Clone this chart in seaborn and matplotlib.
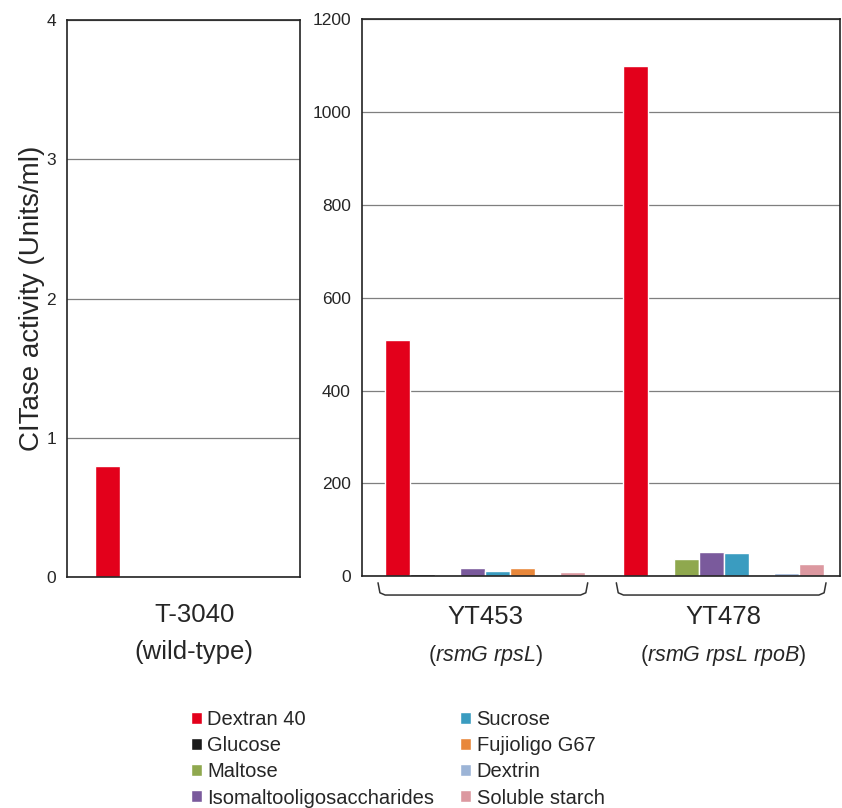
import numpy as np
import pandas as pd
import matplotlib
matplotlib.use("Agg")
import matplotlib.pyplot as plt
import seaborn as sns

# substrates (legend order) and their colours
substrates = ["Dextran 40", "Glucose", "Maltose", "Isomaltooligosaccharides",
              "Sucrose", "Fujioligo G67", "Dextrin", "Soluble starch"]
colors = ["#e3001b", "#1a1a1a", "#8fa84e", "#7a5a9c",
          "#3a9cc0", "#e8873a", "#9cb4d6", "#dc98a0"]

# CITase activity (Units/ml)
wt_vals = [0.8, 0, 0, 0, 0, 0, 0, 0]            # T-3040
yt453_vals = [510, 4, 0, 17, 11, 17, 0, 8]     # YT453
yt478_vals = [1100, 0, 36, 52, 50, 0, 6, 26]   # YT478

strains_right = ["YT453", "YT478"]
genotypes_right = [r"($\mathit{rsmG\ rpsL}$)", r"($\mathit{rsmG\ rpsL\ rpoB}$)"]

sns.set_style("white")
plt.rcParams["font.family"] = ["Liberation Sans", "DejaVu Sans"]
plt.rcParams["mathtext.fontset"] = "custom"
plt.rcParams["mathtext.rm"] = "Liberation Sans"
plt.rcParams["mathtext.it"] = "Liberation Sans:italic"

df_left = pd.DataFrame({"strain": "T-3040", "substrate": substrates, "activity": wt_vals})
df_right = pd.DataFrame({
    "strain": np.repeat(strains_right, len(substrates)),
    "substrate": substrates * 2,
    "activity": yt453_vals + yt478_vals,
})

fig = plt.figure(figsize=(8.42, 8.08), dpi=100)
ax1 = fig.add_axes([0.0796, 0.286, 0.2767, 0.689])
ax2 = fig.add_axes([0.430, 0.287, 0.568, 0.689])

pal = dict(zip(substrates, colors))
sns.barplot(data=df_left, x="strain", y="activity", hue="substrate",
            hue_order=substrates, palette=pal, width=0.84, saturation=1,
            ax=ax1, legend=True)
sns.barplot(data=df_right, x="strain", y="activity", hue="substrate",
            hue_order=substrates, palette=pal, width=0.84, saturation=1,
            ax=ax2, legend=False)

handles, labels = ax1.get_legend_handles_labels()
ax1.get_legend().remove()

ax1.set_ylim(0, 4)
ax1.set_yticks([0, 1, 2, 3, 4])
ax1.set_xlim(-0.536, 0.445)
ax2.set_ylim(0, 1200)
ax2.set_yticks(range(0, 1201, 200))
ax2.set_xlim(-0.517, 1.49)

for ax in (ax1, ax2):
    ax.yaxis.grid(True, color="#7f7f7f", lw=0.9)
    ax.set_axisbelow(True)
    ax.set_xticks([])
    ax.set_xlabel("")
    ax.tick_params(axis="y", length=0, pad=8, labelsize=12.5)
    for sp in ax.spines.values():
        sp.set_visible(True)
        sp.set_color("#222222")
        sp.set_linewidth(1.2)

ax1.set_ylabel("CITase activity (Units/ml)", fontsize=20, labelpad=1)
ax2.set_ylabel("")

# strain labels under the panels
tr1 = ax1.get_xaxis_transform()
ax1.text(0, -0.068, "T-3040", transform=tr1, ha="center", va="center", fontsize=18.5)
ax1.text(0, -0.135, "(wild-type)", transform=tr1, ha="center", va="center", fontsize=18.5)

tr2 = ax2.get_xaxis_transform()
for i, (name, geno) in enumerate(zip(strains_right, genotypes_right)):
    ax2.text(i, -0.074, name, transform=tr2, ha="center", va="center", fontsize=18.5)
    ax2.text(i, -0.142, geno, transform=tr2, ha="center", va="center", fontsize=15.5)
    # bracket under each group
    x0, x1 = i - 0.45, i + 0.43
    xs = [x0, x0 + 0.008, x0 + 0.03, x1 - 0.03, x1 - 0.008, x1]
    ys = [-0.012, -0.03, -0.034, -0.034, -0.03, -0.012]
    ax2.plot(xs, ys, transform=tr2, color="#333333", lw=1.1, clip_on=False)

fig.legend(handles, labels, ncol=2, loc="upper left", bbox_to_anchor=(0.215, 0.134),
           frameon=False, fontsize=14.5, handlelength=0.55, handleheight=0.55,
           handletextpad=0.25, labelspacing=0.36, columnspacing=1.3,
           borderpad=0)

fig.savefig("out.png", dpi=100)
